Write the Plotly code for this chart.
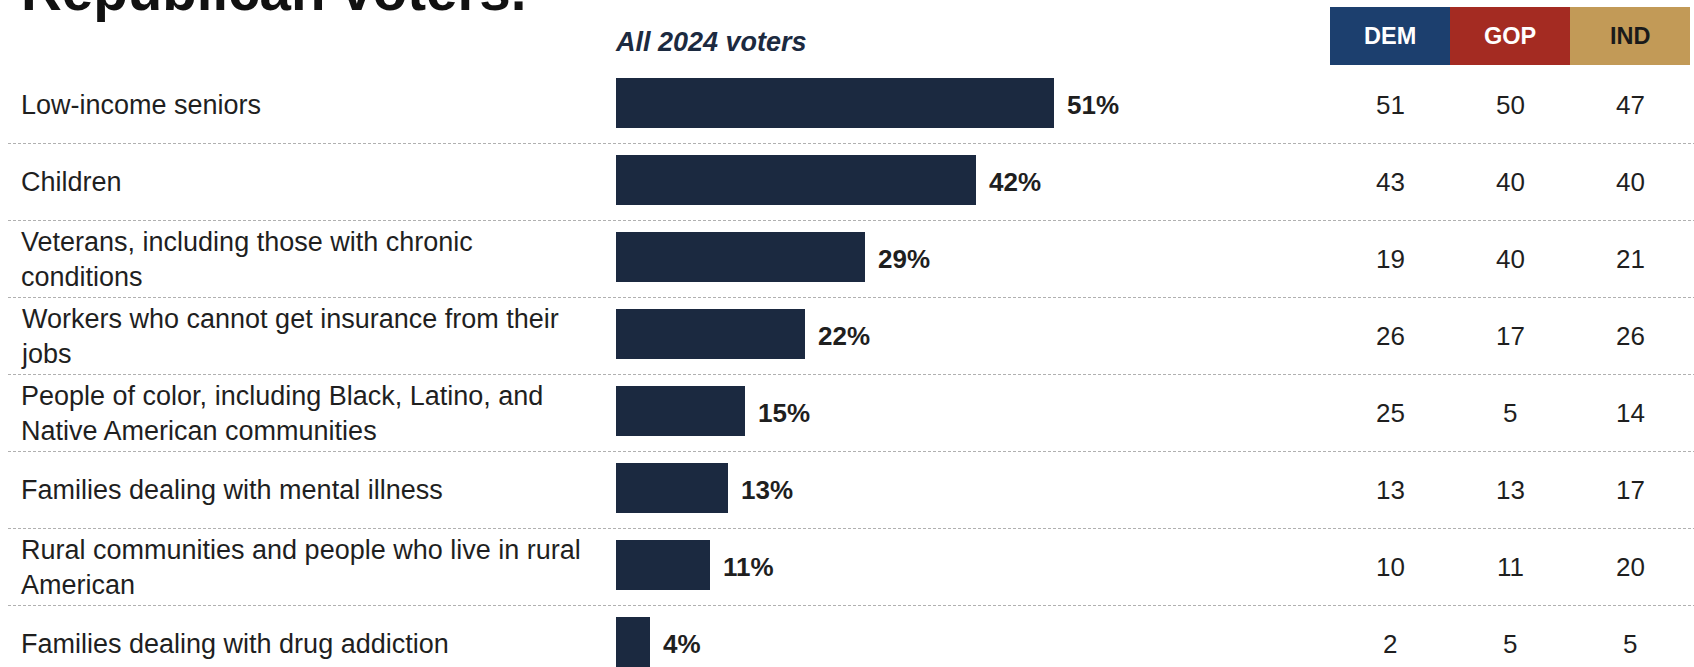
import plotly.graph_objects as go

W, H = 1694, 667

categories = [
    "Low-income seniors",
    "Children",
    "Veterans, including those with chronic<br>conditions",
    "Workers who cannot get insurance from their<br>jobs",
    "People of color, including Black, Latino, and<br>Native American communities",
    "Families dealing with mental illness",
    "Rural communities and people who live in rural<br>American",
    "Families dealing with drug addiction",
]
all_voters = [51, 42, 29, 22, 15, 13, 11, 4]
dem = [51, 43, 19, 26, 25, 13, 10, 2]
gop = [50, 40, 40, 17, 5, 13, 11, 5]
ind = [47, 40, 21, 26, 14, 17, 20, 5]
party_labels = ["DEM", "GOP", "IND"]
title_text = "Republican voters."
subtitle_text = "All 2024 voters"

BAR_COLOR = "#1b2940"
TEXT = "#1f1f1f"
FONT = "Liberation Sans, Arial, sans-serif"
party_fill = ["#1c3f6e", "#a42b22", "#c29a57"]
party_font = ["white", "white", "#1a1a1a"]

# geometry (pixels)
bar_left = 616
px_per_pt = 8.58
row0 = 105
pitch = 77.0
col_x = [1390, 1510, 1630]
box_w = 120
box_top, box_bot = 7, 65
bar_w = 0.65
bar_off = -bar_w / 2 - 2.2 / pitch

ys = list(range(len(categories)))

fig = go.Figure()
fig.add_trace(go.Bar(
    y=ys, x=all_voters, orientation="h", width=bar_w, offset=bar_off,
    marker=dict(color=BAR_COLOR, line=dict(width=0)),
    hoverinfo="skip", showlegend=False,
))

ann = []
shapes = []
# title (cut off at top)
ann.append(dict(text="<b>" + title_text + "</b>", xref="paper", yref="paper",
                x=19 / W, y=1 + 9 / H, xanchor="left", yanchor="middle",
                showarrow=False, font=dict(family=FONT, size=56.5, color="#111111")))
# subtitle
ann.append(dict(text="<b><i>" + subtitle_text + "</i></b>", xref="paper", yref="paper",
                x=613 / W, y=1 - 42 / H, xanchor="left", yanchor="middle",
                showarrow=False, font=dict(family=FONT, size=27, color="#1c2a40")))

for i, cat in enumerate(categories):
    ann.append(dict(text=cat, xref="paper", yref="y", x=19 / W, y=i,
                    xanchor="left", yanchor="middle", align="left", showarrow=False,
                    font=dict(family=FONT, size=27, color=TEXT)))
    ann.append(dict(text="<b>%d%%</b>" % all_voters[i], xref="x", yref="y",
                    x=all_voters[i], y=i, xshift=11, xanchor="left", yanchor="middle",
                    showarrow=False, font=dict(family=FONT, size=26, color=TEXT)))
    for c, vals in enumerate([dem, gop, ind]):
        ann.append(dict(text=str(vals[i]), xref="paper", yref="y",
                        x=col_x[c] / W, y=i, xanchor="center", yanchor="middle",
                        showarrow=False, font=dict(family=FONT, size=26, color=TEXT)))

for i in range(len(categories) - 1):
    shapes.append(dict(type="line", xref="paper", yref="y", x0=8 / W, x1=1,
                       y0=i + 0.5, y1=i + 0.5,
                       line=dict(color="#b0b0b0", width=1.2, dash="3px,2px")))

for c, lab in enumerate(party_labels):
    x0 = (col_x[c] - box_w / 2) / W
    x1 = (col_x[c] + box_w / 2) / W
    shapes.append(dict(type="rect", xref="paper", yref="paper", x0=x0, x1=x1,
                       y0=1 - box_bot / H, y1=1 - box_top / H,
                       fillcolor=party_fill[c], line=dict(width=0), layer="below"))
    ann.append(dict(text="<b>" + lab + "</b>", xref="paper", yref="paper",
                    x=col_x[c] / W, y=1 - (box_top + box_bot) / 2 / H,
                    xanchor="center", yanchor="middle", showarrow=False,
                    font=dict(family=FONT, size=23.5, color=party_font[c])))

fig.update_layout(
    width=W, height=H, margin=dict(l=0, r=0, t=0, b=0),
    paper_bgcolor="white", plot_bgcolor="white",
    xaxis=dict(domain=[bar_left / W, 1], range=[0, (W - bar_left) / px_per_pt],
               visible=False, fixedrange=True),
    yaxis=dict(range=[(H - row0) / pitch, -row0 / pitch], visible=False, fixedrange=True),
    annotations=ann, shapes=shapes, bargap=0,
)

fig.write_html("out.html", config={"displayModeBar": False},
               post_script="document.body.style.margin='0';document.body.style.overflow='hidden';")
